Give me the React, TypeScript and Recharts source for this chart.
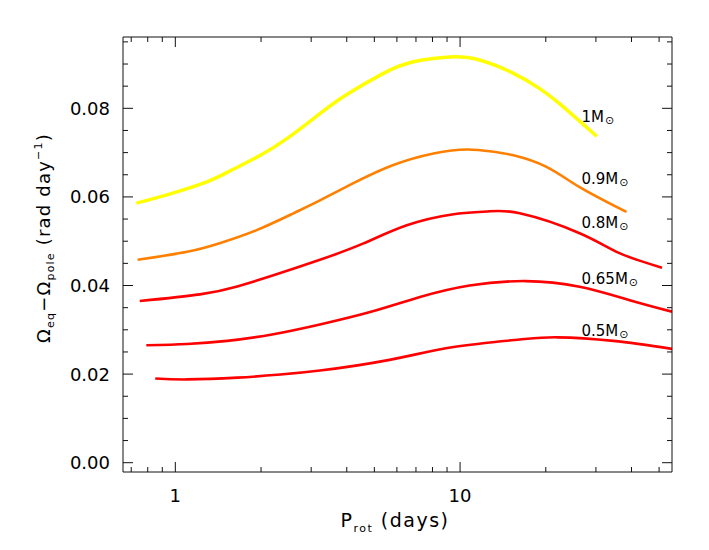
import { LineChart, Line, XAxis, YAxis, ReferenceDot } from 'recharts'

// rotation period (days) vs. differential rotation (rad/day), one pair per stellar mass
const pRot100 = [0.73, 0.96, 1.29, 1.56, 1.99, 2.47, 3.22, 4.0, 5.38, 6.86, 9.2, 11.7, 15.4, 19.1, 22.4, 26.3, 30.2]
const dOmega100 = [0.0586, 0.0607, 0.0634, 0.0659, 0.0694, 0.0732, 0.0788, 0.0831, 0.0879, 0.0905, 0.0916, 0.0909, 0.0879, 0.0844, 0.081, 0.0771, 0.0737]

const pRot090 = [0.737, 1.1, 1.44, 1.93, 2.6, 3.22, 4.22, 5.83, 8.07, 10.6, 13.1, 15.4, 20.1, 26.3, 38.4]
const dOmega090 = [0.0458, 0.0476, 0.0496, 0.0525, 0.0563, 0.0592, 0.0631, 0.0672, 0.0698, 0.0707, 0.0702, 0.0694, 0.0668, 0.0622, 0.0566]

const pRot080 = [0.75, 1.22, 1.65, 2.21, 3.22, 4.58, 6.5, 9.49, 12.4, 16.2, 26.3, 36.3, 51.2]
const dOmega080 = [0.0365, 0.038, 0.0398, 0.0423, 0.0458, 0.0495, 0.0536, 0.0561, 0.0567, 0.0563, 0.0518, 0.0473, 0.044]

const pRot065 = [0.791, 1.1, 1.52, 2.21, 3.22, 4.83, 7.23, 10.8, 17, 26.3, 39.4, 55.5]
const dOmega065 = [0.0265, 0.0268, 0.0275, 0.029, 0.0312, 0.034, 0.0374, 0.04, 0.041, 0.0397, 0.0367, 0.0341]

const pRot050 = [0.85, 1.1, 1.65, 2.34, 3.22, 5.53, 9.49, 16.2, 22, 34.5, 55.5]
const dOmega050 = [0.019, 0.0188, 0.0192, 0.0199, 0.0208, 0.0231, 0.0261, 0.0278, 0.0283, 0.0275, 0.0257]

const massLabels = ['1', '0.9', '0.8', '0.65', '0.5']
const labelP = 26.7
const labelOmega = [0.0769, 0.063, 0.0529, 0.0404, 0.0287]

const xTicks = [0.7, 0.8, 0.9, 1, 2, 3, 4, 5, 6, 7, 8, 9, 10, 20, 30, 40, 50]
const xMajor = [1, 10]
const yTicks = [0, 0.005, 0.01, 0.015, 0.02, 0.025, 0.03, 0.035, 0.04, 0.045, 0.05, 0.055, 0.06, 0.065, 0.07, 0.075, 0.08, 0.085, 0.09, 0.095]

const toRows = (p: number[], w: number[]) => p.map((v, i) => ({ p: v, w: w[i] }))

const series = [
  { key: 'm100', data: toRows(pRot100, dOmega100), color: '#ffff00', width: 3.5 },
  { key: 'm090', data: toRows(pRot090, dOmega090), color: '#ff8000', width: 2.6 },
  { key: 'm080', data: toRows(pRot080, dOmega080), color: '#ff0000', width: 2.6 },
  { key: 'm065', data: toRows(pRot065, dOmega065), color: '#ff0000', width: 2.6 },
  { key: 'm050', data: toRows(pRot050, dOmega050), color: '#ff0000', width: 2.6 }
]

const FONT = '"DejaVu Sans", sans-serif'
const AXIS = '#111'

const isMajorY = (v: number) => Math.round(v * 1000) % 20 === 0

// ticks point inward from all four frame sides, labels only on bottom/left
// eslint-disable-next-line @typescript-eslint/no-explicit-any
const BottomTick = ({ x, y, payload }: any) => {
  const major = xMajor.includes(payload.value)
  return (
    <g>
      <line x1={x} y1={y} x2={x} y2={y - (major ? 10 : 5)} stroke={AXIS} />
      {major && (
        <text x={x} y={y + 30} textAnchor="middle" fontSize={18} fontFamily={FONT} fill="#000">
          {payload.value}
        </text>
      )}
    </g>
  )
}

// eslint-disable-next-line @typescript-eslint/no-explicit-any
const TopTick = ({ x, y, payload }: any) => {
  const major = xMajor.includes(payload.value)
  return <line x1={x} y1={y} x2={x} y2={y + (major ? 10 : 5)} stroke={AXIS} />
}

// eslint-disable-next-line @typescript-eslint/no-explicit-any
const LeftTick = ({ x, y, payload }: any) => {
  const major = isMajorY(payload.value)
  return (
    <g>
      <line x1={x} y1={y} x2={x + (major ? 10 : 5)} y2={y} stroke={AXIS} />
      {major && (
        <text x={x - 13} y={y} dy="0.36em" textAnchor="end" fontSize={18} fontFamily={FONT} fill="#000">
          {payload.value.toFixed(2)}
        </text>
      )}
    </g>
  )
}

// eslint-disable-next-line @typescript-eslint/no-explicit-any
const RightTick = ({ x, y, payload }: any) => {
  const major = isMajorY(payload.value)
  return <line x1={x} y1={y} x2={x - (major ? 10 : 5)} y2={y} stroke={AXIS} />
}

// eslint-disable-next-line @typescript-eslint/no-explicit-any
const XTitle = ({ viewBox }: any) => (
  <text x={viewBox.x + 272} y={viewBox.y + 55} textAnchor="middle" fontSize={19} fontFamily={FONT} fill="#000" letterSpacing={1.5}>
    P<tspan fontSize={11} dy={5}>rot</tspan>
    <tspan fontSize={19} dy={-5}> (days)</tspan>
  </text>
)

// eslint-disable-next-line @typescript-eslint/no-explicit-any
const YTitle = ({ viewBox }: any) => {
  const cx = 50
  const cy = viewBox.y + 201
  return (
    <text x={cx} y={cy} transform={`rotate(-90 ${cx} ${cy})`} textAnchor="middle" fontSize={18} fontFamily={FONT} fill="#000" letterSpacing={1.2}>
      Ω<tspan fontSize={11} dy={4}>eq</tspan>
      <tspan fontSize={18} dy={-4}>−Ω</tspan>
      <tspan fontSize={11} dy={4}>pole</tspan>
      <tspan fontSize={18} dy={-4}> (rad day</tspan>
      <tspan fontSize={11} dy={-8}>−1</tspan>
      <tspan fontSize={18} dy={8}>)</tspan>
    </text>
  )
}

// eslint-disable-next-line @typescript-eslint/no-explicit-any
const MassLabel = ({ viewBox, mass }: any) => (
  <text x={viewBox.x} y={viewBox.y} fontSize={15} fontFamily={FONT} fill="#000">
    {mass}M<tspan fontSize={11} dx={1} dy={2}>⊙</tspan>
  </text>
)

export default function App() {
  return (
    <div style={{ position: 'absolute', left: 0, top: 0, background: '#fff' }}>
      <LineChart
        width={709}
        height={550}
        margin={{ top: 27, right: 27, bottom: 48, left: 63 }}
        style={{ fontFamily: FONT }}
      >
        <XAxis
          xAxisId="b"
          type="number"
          dataKey="p"
          scale="log"
          domain={[0.655, 55.5]}
          allowDataOverflow
          ticks={xTicks}
          interval={0}
          height={30}
          tickSize={0}
          tickMargin={0}
          tickLine={false}
          axisLine={{ stroke: AXIS }}
          tick={<BottomTick />}
          label={<XTitle />}
        />
        <XAxis
          xAxisId="t"
          orientation="top"
          type="number"
          dataKey="p"
          scale="log"
          domain={[0.655, 55.5]}
          allowDataOverflow
          ticks={xTicks}
          interval={0}
          height={10}
          tickSize={0}
          tickMargin={0}
          tickLine={false}
          axisLine={{ stroke: AXIS }}
          tick={<TopTick />}
        />
        <YAxis
          yAxisId="l"
          type="number"
          domain={[-0.0021, 0.0961]}
          allowDataOverflow
          ticks={yTicks}
          interval={0}
          width={60}
          tickSize={0}
          tickMargin={0}
          tickLine={false}
          axisLine={{ stroke: AXIS }}
          tick={<LeftTick />}
          label={<YTitle />}
        />
        <YAxis
          yAxisId="r"
          orientation="right"
          type="number"
          domain={[-0.0021, 0.0961]}
          allowDataOverflow
          ticks={yTicks}
          interval={0}
          width={10}
          tickSize={0}
          tickMargin={0}
          tickLine={false}
          axisLine={{ stroke: AXIS }}
          tick={<RightTick />}
        />
        {series.map((s) => (
          <Line
            key={s.key}
            xAxisId="b"
            yAxisId="l"
            data={s.data}
            dataKey="w"
            type="natural"
            stroke={s.color}
            strokeWidth={s.width}
            dot={false}
            activeDot={false}
            isAnimationActive={false}
          />
        ))}
        {massLabels.map((m, i) => (
          <ReferenceDot
            key={m}
            xAxisId="b"
            yAxisId="l"
            x={labelP}
            y={labelOmega[i]}
            r={0}
            fill="none"
            stroke="none"
            label={<MassLabel mass={m} />}
          />
        ))}
      </LineChart>
    </div>
  )
}
